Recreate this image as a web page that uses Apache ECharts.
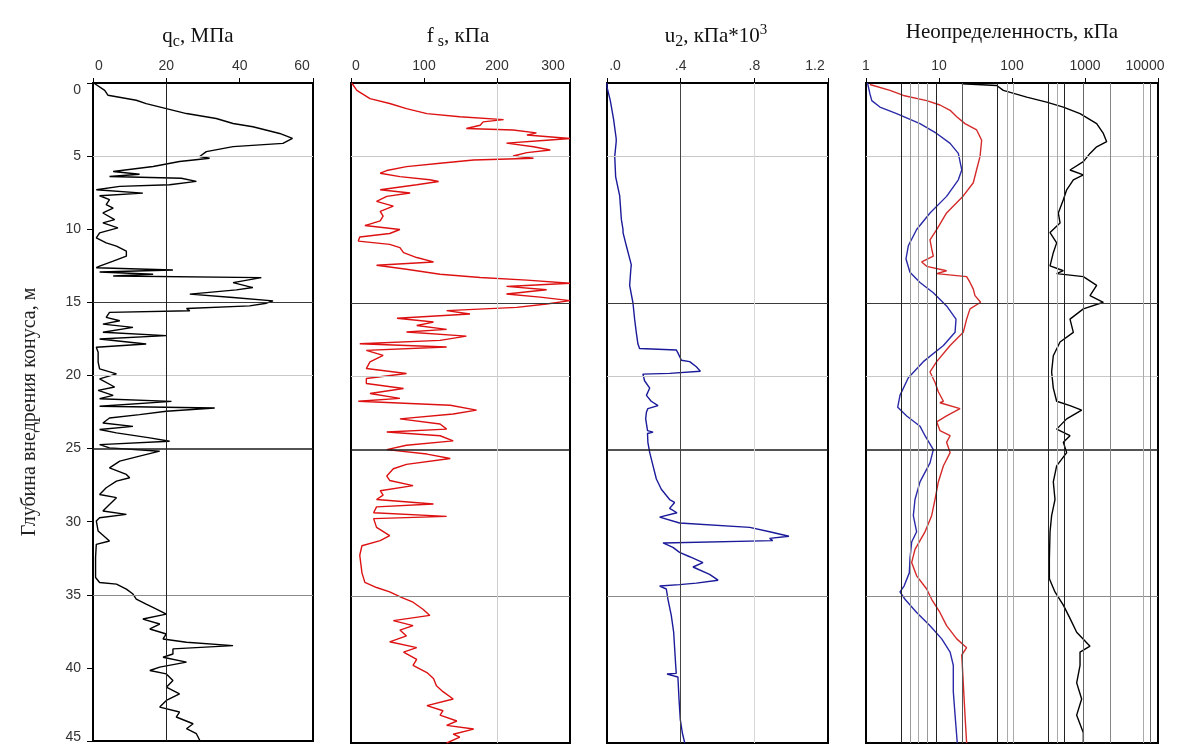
<!DOCTYPE html>
<html><head><meta charset="utf-8">
<script src="https://cdn.jsdelivr.net/npm/echarts@6/dist/echarts.min.js"></script>
<style>html,body{margin:0;padding:0;background:#fff}#c{width:1179px;height:744px}</style>
</head><body><div id="c"></div>
<script>
// ---- data: [depth (m), value] ----
const qcProfile = [[0,0.2],[0.5,3.2],[0.84,4.1],[1.18,11.8],[1.41,14.5],[1.75,20.0],[2.09,25.5],[2.43,33.6],[2.77,38.2],[2.99,43.6],[3.45,50.9],[3.79,54.4],[4.13,51.8],[4.35,38.2],[4.69,30.9],[5.03,29.1],[5.15,31.8],[5.37,23.6],[5.71,16.4],[6.05,5.5],[6.24,12.7],[6.39,4.5],[6.51,24.1],[6.73,28.2],[6.96,20.9],[7.07,7.3],[7.30,0.9],[7.53,13.6],[7.71,1.8],[7.98,4.5],[8.32,3.6],[8.55,5.5],[8.89,2.7],[9.34,5.9],[9.57,2.7],[9.91,6.8],[10.25,1.8],[10.59,0.9],[10.93,3.6],[11.16,6.4],[11.5,9.1],[11.84,9.1],[12.18,5.5],[12.52,1.8],[12.63,0.9],[12.79,21.8],[12.93,1.8],[13.08,16.4],[13.2,5.5],[13.31,45.9],[13.42,46.4],[13.65,38.2],[13.99,43.6],[14.15,39.1],[14.44,26.4],[14.67,38.2],[14.9,49.1],[15.06,47.3],[15.24,42.7],[15.42,25.5],[15.58,26.4],[15.69,4.5],[16.03,3.6],[16.26,7.3],[16.49,2.7],[16.71,10.9],[17.05,2.7],[17.28,20.0],[17.51,1.8],[17.85,14.5],[18.07,0.9],[18.41,1.4],[19.09,1.4],[19.55,1.8],[19.89,6.4],[20.23,1.8],[20.79,5.9],[21.02,1.4],[21.36,5.5],[21.59,1.8],[21.77,21.4],[22.11,1.8],[22.23,33.2],[22.45,20.0],[22.68,12.7],[22.91,4.5],[23.25,2.7],[23.48,10.9],[23.7,1.8],[23.93,6.4],[24.27,15.5],[24.5,20.9],[24.73,1.8],[24.95,4.5],[25.18,18.2],[25.52,12.7],[25.86,7.3],[26.32,4.5],[26.77,9.1],[27.0,10.0],[27.23,6.4],[27.68,3.6],[28.14,1.8],[28.36,6.4],[28.82,4.5],[29.27,2.7],[29.5,9.1],[29.73,1.8],[29.95,0.9],[30.64,1.4],[31.32,4.5],[31.55,0.9],[32.45,0.7],[33.82,0.7],[34.16,1.8],[34.27,6.4],[34.61,9.1],[34.95,10.9],[35.3,11.8],[35.64,14.5],[35.98,17.3],[36.32,20.0],[36.66,13.6],[37.0,18.2],[37.34,15.5],[37.68,20.0],[38.02,19.1],[38.25,25.5],[38.48,38.2],[38.7,21.8],[39.05,21.8],[39.27,19.1],[39.61,25.5],[39.95,18.2],[40.18,15.5],[40.41,20.0],[40.86,21.8],[41.32,20.0],[41.77,23.6],[42.23,20.0],[42.68,18.2],[43.02,23.6],[43.36,22.7],[43.82,27.3],[44.16,25.5],[44.5,28.2],[44.95,29.1]];

const fsProfile = [[0,1],[0.5,8],[1.07,26],[1.4,53],[1.75,76],[2.09,104],[2.3,149],[2.5,209],[2.65,181],[2.88,177],[3.1,158],[3.2,222],[3.4,254],[3.55,241],[3.78,300],[3.9,268],[4.1,213],[4.35,250],[4.57,273],[4.75,241],[4.98,222],[5.13,250],[5.25,168],[5.47,122],[5.7,76],[5.97,49],[6.15,40],[6.38,67],[6.6,108],[6.72,120],[6.94,90],[7.28,40],[7.5,81],[7.73,49],[8.07,35],[8.4,58],[8.75,40],[9.08,44],[9.4,40],[9.72,19],[9.99,67],[10.26,53],[10.5,12],[10.78,10],[11.0,53],[11.23,67],[11.57,72],[11.9,90],[12.2,113],[12.43,35],[12.7,76],[13.04,122],[13.26,177],[13.44,241],[13.65,300],[13.87,213],[14.1,268],[14.39,213],[14.6,259],[14.84,300],[15.07,268],[15.3,227],[15.52,131],[15.75,163],[16.04,63],[16.3,113],[16.53,90],[16.8,131],[16.98,76],[17.26,158],[17.55,122],[17.78,12],[18.0,131],[18.23,21],[18.57,44],[19.02,26],[19.47,21],[19.81,76],[20.15,21],[20.49,21],[20.83,72],[21.17,26],[21.5,67],[21.7,10],[21.97,136],[22.3,172],[22.57,140],[22.9,67],[23.25,122],[23.6,131],[23.8,49],[24.05,122],[24.4,140],[24.7,76],[25.0,49],[25.3,104],[25.6,136],[26.0,76],[26.3,58],[26.8,49],[27.1,53],[27.45,85],[27.8,40],[28.1,44],[28.4,35],[28.7,113],[28.9,35],[29.3,31],[29.55,131],[29.7,31],[30.3,35],[30.86,53],[31.2,40],[31.55,15],[32.2,12],[33.4,15],[34.05,19],[34.4,35],[34.7,53],[35.07,69],[35.4,85],[35.9,99],[36.3,108],[36.66,58],[37.0,85],[37.3,67],[37.7,76],[38.1,53],[38.5,90],[38.8,72],[39.3,90],[39.7,85],[40.2,104],[40.6,113],[41.1,117],[41.5,126],[42.0,140],[42.45,104],[42.8,126],[43.1,122],[43.5,145],[43.8,131],[44.05,168],[44.4,140],[44.6,149],[45.0,131]];

const u2Profile = [[0,0],[0.28,0.0],[1.2,0.018],[2.5,0.036],[3.8,0.05],[3.9,0.06],[4.0,0.05],[5.0,0.042],[6.4,0.047],[7.7,0.069],[9.3,0.078],[10.0,0.087],[10.1,0.092],[10.2,0.087],[11.1,0.105],[12.4,0.132],[12.5,0.14],[12.6,0.13],[13.8,0.123],[15.0,0.141],[16.1,0.15],[17.0,0.159],[17.8,0.168],[18.1,0.177],[18.2,0.376],[18.4,0.385],[18.9,0.404],[19.0,0.449],[19.35,0.485],[19.65,0.507],[19.8,0.34],[19.85,0.195],[20.3,0.204],[20.8,0.232],[21.3,0.214],[21.7,0.24],[22.0,0.277],[22.2,0.222],[22.45,0.214],[22.9,0.21],[23.7,0.22],[23.8,0.25],[23.9,0.22],[24.5,0.222],[25.2,0.232],[26.1,0.25],[27.0,0.268],[27.7,0.295],[28.4,0.34],[28.6,0.367],[29.0,0.34],[29.3,0.38],[29.6,0.286],[30.0,0.394],[30.3,0.775],[30.6,0.883],[30.9,0.988],[31.05,0.883],[31.2,0.9],[31.36,0.304],[31.66,0.358],[32.0,0.394],[32.3,0.449],[32.7,0.521],[33.0,0.467],[33.5,0.557],[33.9,0.603],[34.1,0.485],[34.2,0.394],[34.3,0.286],[34.5,0.322],[35.2,0.331],[36.3,0.349],[37.45,0.362],[39.7,0.373],[40.25,0.376],[40.3,0.326],[40.4,0.326],[40.5,0.385],[42.0,0.391],[43.4,0.398],[44.3,0.409],[45,0.422]];

const uncBlue = [[0,1.05],[0.73,1.13],[1.2,1.2],[1.64,1.55],[2.09,2.63],[2.77,5.49],[3.44,9.29],[4.12,14.2],[4.8,18.4],[5.93,20.5],[6.6,18.4],[7.73,12.7],[8.86,7.53],[9.99,4.94],[11.1,3.8],[12.0,3.53],[12.9,4.0],[13.6,5.49],[14.3,8.36],[15.2,12.7],[16.1,17.1],[17.0,16.6],[17.9,11.5],[19.0,6.1],[20.1,3.8],[21.3,2.92],[22.1,2.72],[22.7,3.61],[23.4,5.49],[24.05,6.43],[25.0,8.36],[25.9,7.53],[27.2,5.49],[28.4,4.69],[29.5,4.45],[30.6,4.94],[31.3,4.22],[32.45,4.0],[33.4,3.92],[34.3,3.32],[34.7,2.92],[35.2,3.42],[36.1,4.94],[37.0,7.53],[37.9,10.9],[38.8,14.2],[39.7,15.7],[41.5,15.7],[43.1,16.6],[45,17.8]];

const uncRed = [[0.1,1.13],[0.5,2.13],[0.85,3.25],[1.2,6.78],[1.5,10.3],[1.86,14.2],[2.3,17.5],[2.77,22.7],[3.2,32.8],[3.9,38.4],[5.0,36.5],[5.9,32.8],[6.8,29.5],[7.7,21.5],[8.86,12.7],[10.0,9.29],[10.7,7.53],[11.3,7.93],[11.8,8.36],[12.2,5.79],[12.5,6.78],[12.8,12.7],[13.0,9.29],[13.2,23.9],[13.6,26.6],[14.05,29.5],[14.5,31.1],[14.95,37.2],[15.4,26.6],[16.1,23.9],[17.0,21.5],[17.9,14.2],[19.0,9.29],[19.7,7.53],[20.4,8.81],[21.05,9.79],[21.7,11.5],[21.8,10.3],[22.2,19.4],[22.7,12.7],[23.1,9.29],[23.7,10.3],[24.05,14.2],[24.5,12.7],[25.2,14.2],[26.1,11.5],[27.2,9.79],[28.4,8.81],[29.5,7.93],[30.6,6.43],[31.8,4.69],[32.7,4.22],[33.6,4.94],[34.5,6.78],[35.2,7.93],[36.1,10.3],[37.0,12.7],[37.9,17.5],[38.5,23.9],[39.0,20.5],[40.9,21.5],[43.1,22.7],[45,23.9]];

const uncBlack = [[0.05,20.5],[0.17,61.7],[0.5,76],[0.96,159],[1.3,298],[1.64,505],[2.09,855],[2.77,1445],[3.44,1783],[4.0,1982],[4.35,1445],[4.8,1171],[5.36,949],[5.93,623],[6.27,949],[6.6,692],[7.28,561],[7.96,505],[8.86,431],[9.54,455],[10.2,332],[10.9,409],[11.57,368],[12.47,332],[12.8,505],[13.0,409],[13.2,949],[13.8,1445],[14.5,1171],[14.95,1783],[15.4,949],[16.1,623],[17.0,692],[17.66,455],[18.6,368],[19.7,349],[20.8,368],[21.7,409],[22.0,623],[22.3,900],[22.9,561],[23.6,409],[24.05,623],[24.5,505],[25.2,561],[26.1,409],[27.2,368],[28.4,388],[29.5,349],[30.6,332],[32.45,325],[33.8,325],[34.7,388],[35.6,505],[36.5,623],[37.45,769],[38.4,1171],[38.8,855],[39.7,855],[40.9,769],[42.0,900],[43.1,769],[44.3,949],[45,949]];

// reference lines (values) and tick labels
const hLineDepths = [5, 15, 20, 25, 35];
const qcLinesX = [20];
const fsLinesX = [200];
const u2LinesX = [0.4, 0.8];
const uncLinesX = [3.02, 4.0, 5.2, 6.8, 9.1, 20.6, 62, 85, 103, 311, 413, 515, 939, 2200, 6240, 7770];
const u2TickLabels = ['.0', '.4', '.8', '1.2'];
const panelTitles = ['{a|q}{s|c}{a|, МПа}', '{a|f}{s| s}{a|, кПа}', '{a|u}{s|2}{a|, кПа*10}{p|3}', '{a|Неопределенность, кПа}'];
const depthAxisName = 'Глубина внедрения конуса, м';

// ---- styles ----
const hLineColors = ['#c8c8c8', '#3a3a3a', '#c8c8c8', '#1a1a1a', '#8a8a8a'];
const qcLineColors = ['#222'];
const fsLineColors = ['#cfcfcf'];
const u2LineColors = ['#444', '#d8d8d8'];
const uncLineColors = ['#222','#999','#aaa','#999','#222','#555','#222','#aaa','#aaa','#222','#aaa','#222','#666','#888','#aaa','#666'];

const SERIF = "'Liberation Serif','Times New Roman',serif";
const SANS = "'Liberation Sans',Arial,sans-serif";
const LBL = {fontFamily: SANS, fontSize: 14, color: '#333'};

const chart = echarts.init(document.getElementById('c'), null, {renderer: 'canvas'});

const panels = [
  {left: 93, width: 220, cx: 198},
  {left: 351, width: 219, cx: 458},
  {left: 607, width: 221, cx: 716},
  {left: 866, width: 292, cx: 1012}
];

const grid = panels.map(p => ({left: p.left, width: p.width, top: 83, height: 660, show: true,
  borderColor: '#000', borderWidth: 2, backgroundColor: 'transparent', containLabel: false}));

function rich(shiftL, shiftR) {
  return {
    L: Object.assign({padding: [0, shiftL * 2, 0, 0]}, LBL),
    R: Object.assign({padding: [0, 0, 0, shiftR * 2]}, LBL)
  };
}

const baseX = {
  position: 'top',
  axisLine: {show: false},
  axisTick: {show: true, length: 5, lineStyle: {color: '#000', width: 1}},
  splitLine: {show: false},
  minorTick: {show: false}
};

const xAxis = [
  Object.assign({}, baseX, {gridIndex: 0, type: 'value', min: 0, max: 60, interval: 20,
    axisLabel: Object.assign({margin: 10, rich: rich(11, 6),
      formatter: v => v === 0 ? '{R|0}' : v === 60 ? '{L|60}' : String(v)}, LBL)}),
  Object.assign({}, baseX, {gridIndex: 1, type: 'value', min: 0, max: 300, interval: 100,
    axisLabel: Object.assign({margin: 10, rich: rich(17, 5),
      formatter: v => v === 0 ? '{R|0}' : v === 300 ? '{L|300}' : String(v)}, LBL)}),
  Object.assign({}, baseX, {gridIndex: 2, type: 'value', min: 0, max: 1.2, interval: 0.4,
    axisLabel: Object.assign({margin: 10, rich: rich(13, 8),
      formatter: v => { const i = Math.round(v / 0.4); const t = u2TickLabels[i];
        return i === 0 ? '{R|' + t + '}' : i === 3 ? '{L|' + t + '}' : t; }}, LBL)}),
  Object.assign({}, baseX, {gridIndex: 3, type: 'log', logBase: 10, min: 1, max: 10000,
    axisLabel: Object.assign({margin: 10, rich: rich(13, 2),
      formatter: v => { const t = String(Math.round(v)); return t === '10000' ? '{L|10000}' : t; }}, LBL)})
];

const yAxis = panels.map((p, i) => ({
  gridIndex: i, type: 'value', inverse: true, min: 0, max: 45, interval: 5,
  axisLine: {show: false},
  splitLine: {show: false},
  axisTick: {show: i === 0, length: 6, lineStyle: {color: '#000'}},
  axisLabel: i === 0 ? Object.assign({show: true, margin: 12,
      rich: {D: Object.assign({padding: [14, 0, 0, 0]}, LBL), U: Object.assign({padding: [0, 0, 8, 0]}, LBL)},
      formatter: v => v === 0 ? '{D|0}' : v === 45 ? '{U|45}' : String(v)}, LBL) : {show: false},
  name: i === 0 ? depthAxisName : '',
  nameLocation: 'middle', nameGap: 53, nameRotate: 90,
  nameTextStyle: {fontFamily: SERIF, fontSize: 20, color: '#222'}
}));

function refLines(i, xs, xColors) {
  const data = [];
  hLineDepths.forEach((d, k) => data.push({yAxis: d, lineStyle: {color: hLineColors[k], width: k === 3 ? 1.5 : 1, type: 'solid'}}));
  xs.forEach((x, k) => data.push({xAxis: x, lineStyle: {color: xColors[k], width: 1, type: 'solid'}}));
  return {type: 'line', xAxisIndex: i, yAxisIndex: i, data: [], z: 1, silent: true,
    markLine: {silent: true, symbol: ['none', 'none'], label: {show: false}, animation: false, data: data}};
}

function curve(i, profile, color, w) {
  return {type: 'line', xAxisIndex: i, yAxisIndex: i, z: 3, showSymbol: false, symbol: 'none',
    silent: true, animation: false, lineStyle: {color: color, width: w},
    data: profile.map(r => [r[1], r[0]])};
}

const titleRich = {
  a: {fontFamily: SERIF, fontSize: 21, color: '#111'},
  s: {fontFamily: SERIF, fontSize: 16, color: '#111', padding: [12, 0, 0, 0]},
  p: {fontFamily: SERIF, fontSize: 15, color: '#111', padding: [0, 0, 12, 0]}
};

const option = {
  backgroundColor: '#fff',
  animation: false,
  title: panelTitles.map((t, i) => ({text: t, left: panels[i].cx, top: 22, textAlign: 'center', padding: 0,
    textStyle: {fontFamily: SERIF, fontSize: 21, color: '#111', fontWeight: 'normal', rich: titleRich}})),
  grid: grid,
  xAxis: xAxis,
  yAxis: yAxis,
  series: [
    refLines(0, qcLinesX, qcLineColors),
    refLines(1, fsLinesX, fsLineColors),
    refLines(2, u2LinesX, u2LineColors),
    refLines(3, uncLinesX, uncLineColors),
    curve(0, qcProfile, '#000', 1.4),
    curve(1, fsProfile, '#dd1111', 1.4),
    curve(2, u2Profile, '#1a1a9a', 1.4),
    curve(3, uncBlue, '#2a2aa8', 1.4),
    curve(3, uncRed, '#d42a2a', 1.4),
    curve(3, uncBlack, '#000', 1.4)
  ]
};
chart.setOption(option);
</script></body></html>
